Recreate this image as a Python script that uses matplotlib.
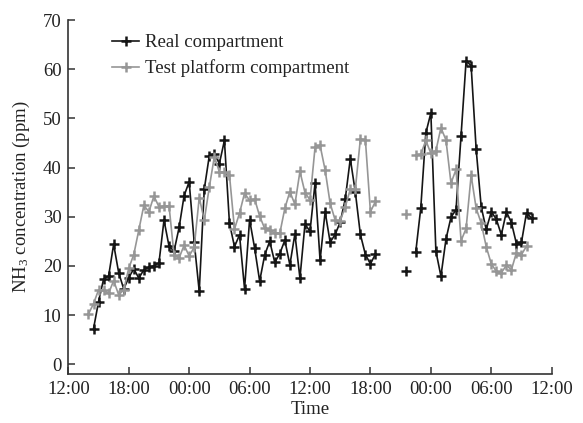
import numpy as np
import matplotlib
matplotlib.use("Agg")
import matplotlib.pyplot as plt

plt.rcParams['font.family'] = ['Liberation Serif', 'DejaVu Serif']
plt.rcParams['mathtext.fontset'] = 'custom'
plt.rcParams['mathtext.rm'] = 'Liberation Serif'
plt.rcParams['mathtext.it'] = 'Liberation Serif:italic'

nan = np.nan

# sampling every 30 min, hours after 12:00 of day 1 (first slot = 14:00)
t_start, t_step = 2.0, 0.5

real = [nan, 7.2, 12.7, 17.3, 17.9, 24.4, 18.6, 15.3, 17.6, 19.4, 17.5,
        19.2, 19.7, 20.0, 20.6, 29.3, 24.0, 23.0, 27.8, 34.3, 37.1,
        24.8, 14.8, 35.6, 42.4, 42.8, 40.8, 45.5, 28.7, 23.9, 26.3,
        15.3, 29.4, 23.6, 16.9, 22.2, 25.0, 20.7, 22.5, 25.2, 20.2,
        26.5, 17.5, 28.5, 27.0, 36.8, 21.1, 31.0, 24.8, 26.4, 28.9,
        33.6, 41.8, 35.0, 26.4, 22.3, 20.4, 22.4,
        nan, nan, nan, nan, nan,
        19.0, nan,
        22.8, 31.8, 47.0, 51.1, 23.0, 17.9, 25.4, 29.9, 31.4, 46.5,
        61.7, 60.7, 43.7, 32.0, 27.4, 31.0, 29.5, 26.3, 31.0, 28.8,
        24.5, 24.8, 30.8, 29.7]

test = [10.2, 12.3, 15.1, 15.1, 14.4, 17.0, 14.1, 15.1, 19.5, 22.3,
        27.3, 32.3, 31.0, 34.2, 32.0, 32.2, 32.2, 22.2, 21.6, 24.2,
        22.0, 23.8, 33.9, 29.3, 36.0, 42.2, 39.1, 39.1, 38.5, 27.5,
        30.7, 34.8, 33.3, 33.6, 30.1, 27.6, 27.2, 26.7, 26.6, 31.7,
        35.1, 32.5, 39.2, 34.9, 33.4, 44.1, 44.5, 39.5, 32.7, 29.3,
        29.2, 32.0, 35.6, 35.6, 45.8, 45.6, 31.0, 33.1,
        nan, nan, nan, nan, nan,
        30.5, nan,
        42.5, 42.7, 45.5, 42.9, 43.4, 48.1, 45.6, 36.8, 39.6, 25.1,
        27.6, 38.4, 31.7, 28.7, 23.9, 20.4, 18.9, 18.6, 20.1, 19.2,
        22.7, 22.3, 24.0, nan]

tick_hours = [0, 6, 12, 18, 24, 30, 36, 42, 48]
tick_labels = ["12:00", "18:00", "00:00", "06:00", "12:00", "18:00",
               "00:00", "06:00", "12:00"]
y_ticks = [0, 10, 20, 30, 40, 50, 60, 70]

hours = t_start + t_step * np.arange(len(real))

fig = plt.figure(figsize=(5.83, 4.23), dpi=100)
ax = fig.add_axes([0.1172, 0.1158, 0.8291, 0.8369])

fs = 13.5
ax.plot(hours, real, color='#151515', lw=1.2, marker='+', ms=7, mew=1.8,
        label='Real compartment', zorder=2)
ax.plot(hours, np.array(test, dtype=float), color='#969696', lw=1.2, marker='+',
        ms=7, mew=1.8, label='Test platform compartment', zorder=3)

ax.set_xlim(0, 48)
ax.set_ylim(-2, 70)
ax.set_xticks(tick_hours)
ax.set_xticklabels(tick_labels)
ax.set_yticks(y_ticks)

for s in ['top', 'right']:
    ax.spines[s].set_visible(False)
for s in ['left', 'bottom']:
    ax.spines[s].set_color('#333333')
    ax.spines[s].set_linewidth(1.2)

ax.tick_params(direction='in', length=5, width=1.1, color='#333333',
               labelsize=fs, pad=5, labelcolor='#222222')

ax.set_xlabel('Time', fontsize=fs, labelpad=2, color='#222222')
ax.set_ylabel(r'NH$_\mathrm{3}$ concentration (ppm)', fontsize=fs,
              labelpad=8, color='#222222')

leg = ax.legend(loc='upper left', bbox_to_anchor=(112 / 583, 1 - 34 / 423),
                bbox_transform=fig.transFigure, frameon=False, fontsize=fs,
                handlelength=1.45, handletextpad=0.3, borderpad=0,
                borderaxespad=0, labelspacing=0.45)
for t in leg.get_texts():
    t.set_color('#222222')

fig.savefig('out.png', dpi=100)
